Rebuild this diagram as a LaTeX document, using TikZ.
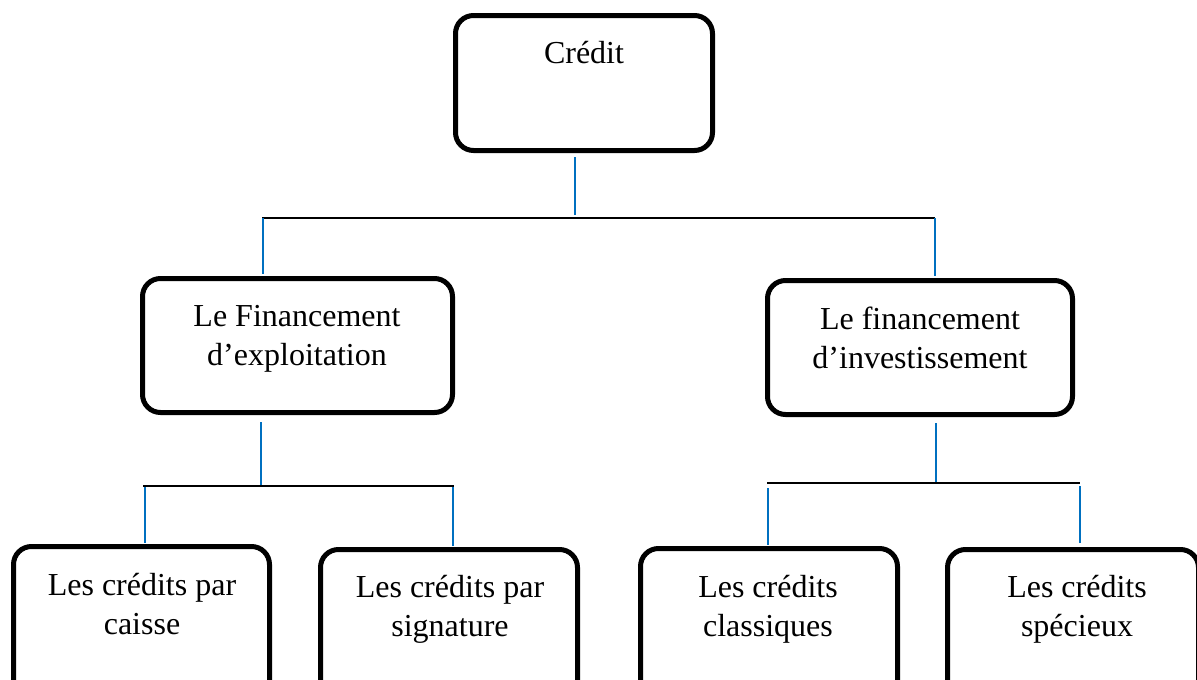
\documentclass[tikz,border=0pt]{standalone}
\usepackage{fontspec}
\setmainfont{Liberation Serif}
\definecolor{linkblue}{RGB}{0,112,192}
\begin{document}
\begin{tikzpicture}[x=1pt,y=-1pt,
  box/.style={draw=black, line width=5pt, rounded corners=18pt, inner sep=0pt},
  lbl/.style={align=center, inner sep=0pt, anchor=north, font=\fontsize{32}{39}\selectfont},
  trunk/.style={draw=linkblue, line width=2pt},
  bar/.style={draw=black, line width=2.5pt}]
\useasboundingbox (0,0) rectangle (1197,680);

% boxes
\node[box, minimum width=257pt, minimum height=135pt] (credit) at (584,83) {};
\node[box, minimum width=310pt, minimum height=134pt] (exploit) at (297.5,345.5) {};
\node[box, minimum width=305pt, minimum height=134pt] (invest) at (920,347.5) {};
\node[box, minimum width=256pt, minimum height=160pt] (caisse) at (141.5,626.5) {};
\node[box, minimum width=257pt, minimum height=160pt] (signat) at (449,629.5) {};
\node[box, minimum width=257pt, minimum height=160pt] (classiq) at (769,628.5) {};
\node[box, minimum width=251pt, minimum height=160pt] (specieux) at (1073,629.5) {};

% labels, first baseline 25pt below the anchor
\node[lbl] (tcredit) at (584,38) {\rule{0pt}{25pt}Crédit};
\node[lbl] (texploit) at (297,301) {\rule{0pt}{25pt}Le Financement\\d’exploitation};
\node[lbl] (tinvest) at (920,304) {\rule{0pt}{25pt}Le financement\\d’investissement};
\node[lbl] (tcaisse) at (142,570) {\rule{0pt}{25pt}Les crédits par\\caisse};
\node[lbl] (tsignat) at (450,572) {\rule{0pt}{25pt}Les crédits par\\signature};
\node[lbl] (tclassiq) at (768,572) {\rule{0pt}{25pt}Les crédits\\classiques};
\node[lbl] (tspecieux) at (1077,572) {\rule{0pt}{25pt}Les crédits\\spécieux};

% junction points
\coordinate (c0) at (575,157);
\coordinate (c1) at (575,215);
\coordinate (bL) at (262,218);
\coordinate (bR) at (935,218);
\coordinate (e0) at (263,218);
\coordinate (e1) at (263,274);
\coordinate (i0) at (935,218);
\coordinate (i1) at (935,276);

\coordinate (x0) at (261,422);
\coordinate (x1) at (261,485);
\coordinate (xL) at (143,486);
\coordinate (xR) at (454,486);
\coordinate (ca0) at (145,487);
\coordinate (ca1) at (145,543);
\coordinate (si0) at (453,487);
\coordinate (si1) at (453,546);

\coordinate (v0) at (936,423);
\coordinate (v1) at (936,482);
\coordinate (vL) at (767,483);
\coordinate (vR) at (1080,483);
\coordinate (cl0) at (768,488);
\coordinate (cl1) at (768,545);
\coordinate (sp0) at (1080,486);
\coordinate (sp1) at (1080,543);

% connectors
\draw[trunk] (c0) -- (c1);
\draw[bar] (bL) -- (bR);
\draw[trunk] (e0) -- (e1);
\draw[trunk] (i0) -- (i1);

\draw[trunk] (x0) -- (x1);
\draw[bar] (xL) -- (xR);
\draw[trunk] (ca0) -- (ca1);
\draw[trunk] (si0) -- (si1);

\draw[trunk] (v0) -- (v1);
\draw[bar] (vL) -- (vR);
\draw[trunk] (cl0) -- (cl1);
\draw[trunk] (sp0) -- (sp1);
\end{tikzpicture}
\end{document}
